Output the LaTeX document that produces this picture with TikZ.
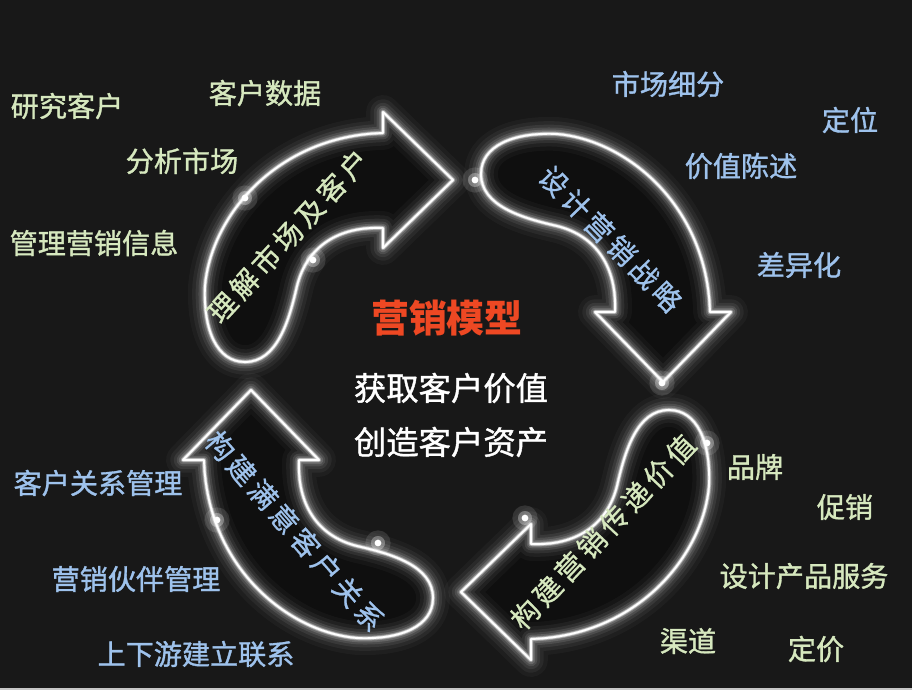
\documentclass[tikz,border=0pt]{standalone}
\usepackage{fontspec}
\setmainfont{Noto Sans CJK SC}
\newfontfamily\lblfont[FakeBold=1.2]{Noto Sans CJK SC}
\newfontfamily\arrowfont[LetterSpace=15,FakeBold=0.8]{Noto Sans CJK SC}
\usepackage{xcolor}
\usepackage{tikz}

\definecolor{bgdark}{RGB}{24,24,24}
\definecolor{lblgreen}{RGB}{214,232,190}
\definecolor{lblblue}{RGB}{158,194,236}
\definecolor{titlered}{RGB}{238,72,35}

% the top-left arrow of the cycle, the others are rotated copies
\newcommand{\cyclearrow}{(-1.85,6.325) -- (-1.85,6.85) -- (-0.1,5.15) -- (-1.85,3.45) -- (-1.85,3.95)
  .. controls (-2.95,4.0) and (-3.75,3.5) .. (-4.0,2.5)
  .. controls (-4.2,1.625) and (-4.5,0.6) .. (-5.3,0.6)
  .. controls (-6.0,0.6) and (-6.35,1.4) .. (-6.3,2.5)
  .. controls (-6.15,4.25) and (-4.5,6.25) .. (-1.85,6.325) -- cycle}

\begin{document}
\begin{tikzpicture}[
    glow/.style={white, line join=round},
    edge/.style={white, line width=1.3pt, line join=round},
    lblg/.style={text=lblgreen, font=\lblfont\fontsize{20}{24}\selectfont},
    lblb/.style={text=lblblue, font=\lblfont\fontsize{20}{24}\selectfont},
    arrtxt/.style={font=\arrowfont\fontsize{20}{24}\selectfont},
    ctr/.style={text=white, font=\lblfont\fontsize{23}{28}\selectfont}
]
% background
\fill[bgdark] (-11.425,-7.6) rectangle (11.375,9.65);
\fill[black!22] (-11.425,-7.6) rectangle (11.375,-7.54);

% arrow bodies
\foreach \r in {0,-90,-180,-270} {
    \fill[black!94, rotate=\r] \cyclearrow;
}
% glowing outlines
\foreach \r in {0,-90,-180,-270} {
    \begin{scope}[rotate=\r]
        \foreach \w/\o in {24pt/0.03,18pt/0.05,13pt/0.07,9pt/0.1,6pt/0.15,3.5pt/0.28,2.2pt/0.55}
            \draw[glow, line width=\w, opacity=\o] \cyclearrow;
        \draw[edge] \cyclearrow;
    \end{scope}
}

% light spots on the outlines
\foreach \p in {(-5.3,4.7),(-3.6,3.15),(0.45,5.15),(5.125,0.075),(6.25,-1.425),(1.7,-3.3),(-6.0,-3.35),(-1.975,-3.925)} {
    \fill[white, opacity=0.12] \p circle (9pt);
    \fill[white, opacity=0.3] \p circle (5pt);
    \fill[white] \p circle (2.4pt);
}

% texts along the arrows
\node[arrtxt, text=lblgreen, rotate=47.5] (understand) at (-4.225,3.75) {理解市场及客户};
\node[arrtxt, text=lblblue, rotate=-45.7] (design) at (3.84,3.675) {设计营销战略};
\node[arrtxt, text=lblgreen, rotate=46.7] (deliver) at (3.65,-3.65) {构建营销传递价值};
\node[arrtxt, text=lblblue, rotate=-48.9] (relation) at (-4.05,-3.625) {构建满意客户关系};

% centre
\node[text=titlered, font=\fontsize{27}{32}\selectfont\bfseries] (model) at (-0.25,1.7) {营销模型};
\node[ctr] (gain) at (-0.15,-0.05) {获取客户价值};
\node[ctr] (create) at (-0.15,-1.4) {创造客户资产};

% top left
\node[lblg] (research) at (-9.75,7.0) {研究客户};
\node[lblg] (data) at (-4.8,7.325) {客户数据};
\node[lblg] (analyse) at (-6.875,5.625) {分析市场};
\node[lblg] (info) at (-9.075,3.575) {管理营销信息};

% top right
\node[lblb] (segment) at (5.275,7.55) {市场细分};
\node[lblb] (position) at (9.825,6.65) {定位};
\node[lblb] (statement) at (7.1,5.5) {价值陈述};
\node[lblb] (differ) at (8.55,3.025) {差异化};

% bottom right
\node[lblg] (brand) at (7.45,-2.025) {品牌};
\node[lblg] (promo) at (9.7,-3.025) {促销};
\node[lblg] (product) at (8.675,-4.75) {设计产品服务};
\node[lblg] (channel) at (5.775,-6.375) {渠道};
\node[lblg] (price) at (8.975,-6.575) {定价};

% bottom left
\node[lblb] (crm) at (-8.975,-2.425) {客户关系管理};
\node[lblb] (partner) at (-8.025,-4.825) {营销伙伴管理};
\node[lblb] (chain) at (-6.525,-6.7) {上下游建立联系};
\end{tikzpicture}
\end{document}
